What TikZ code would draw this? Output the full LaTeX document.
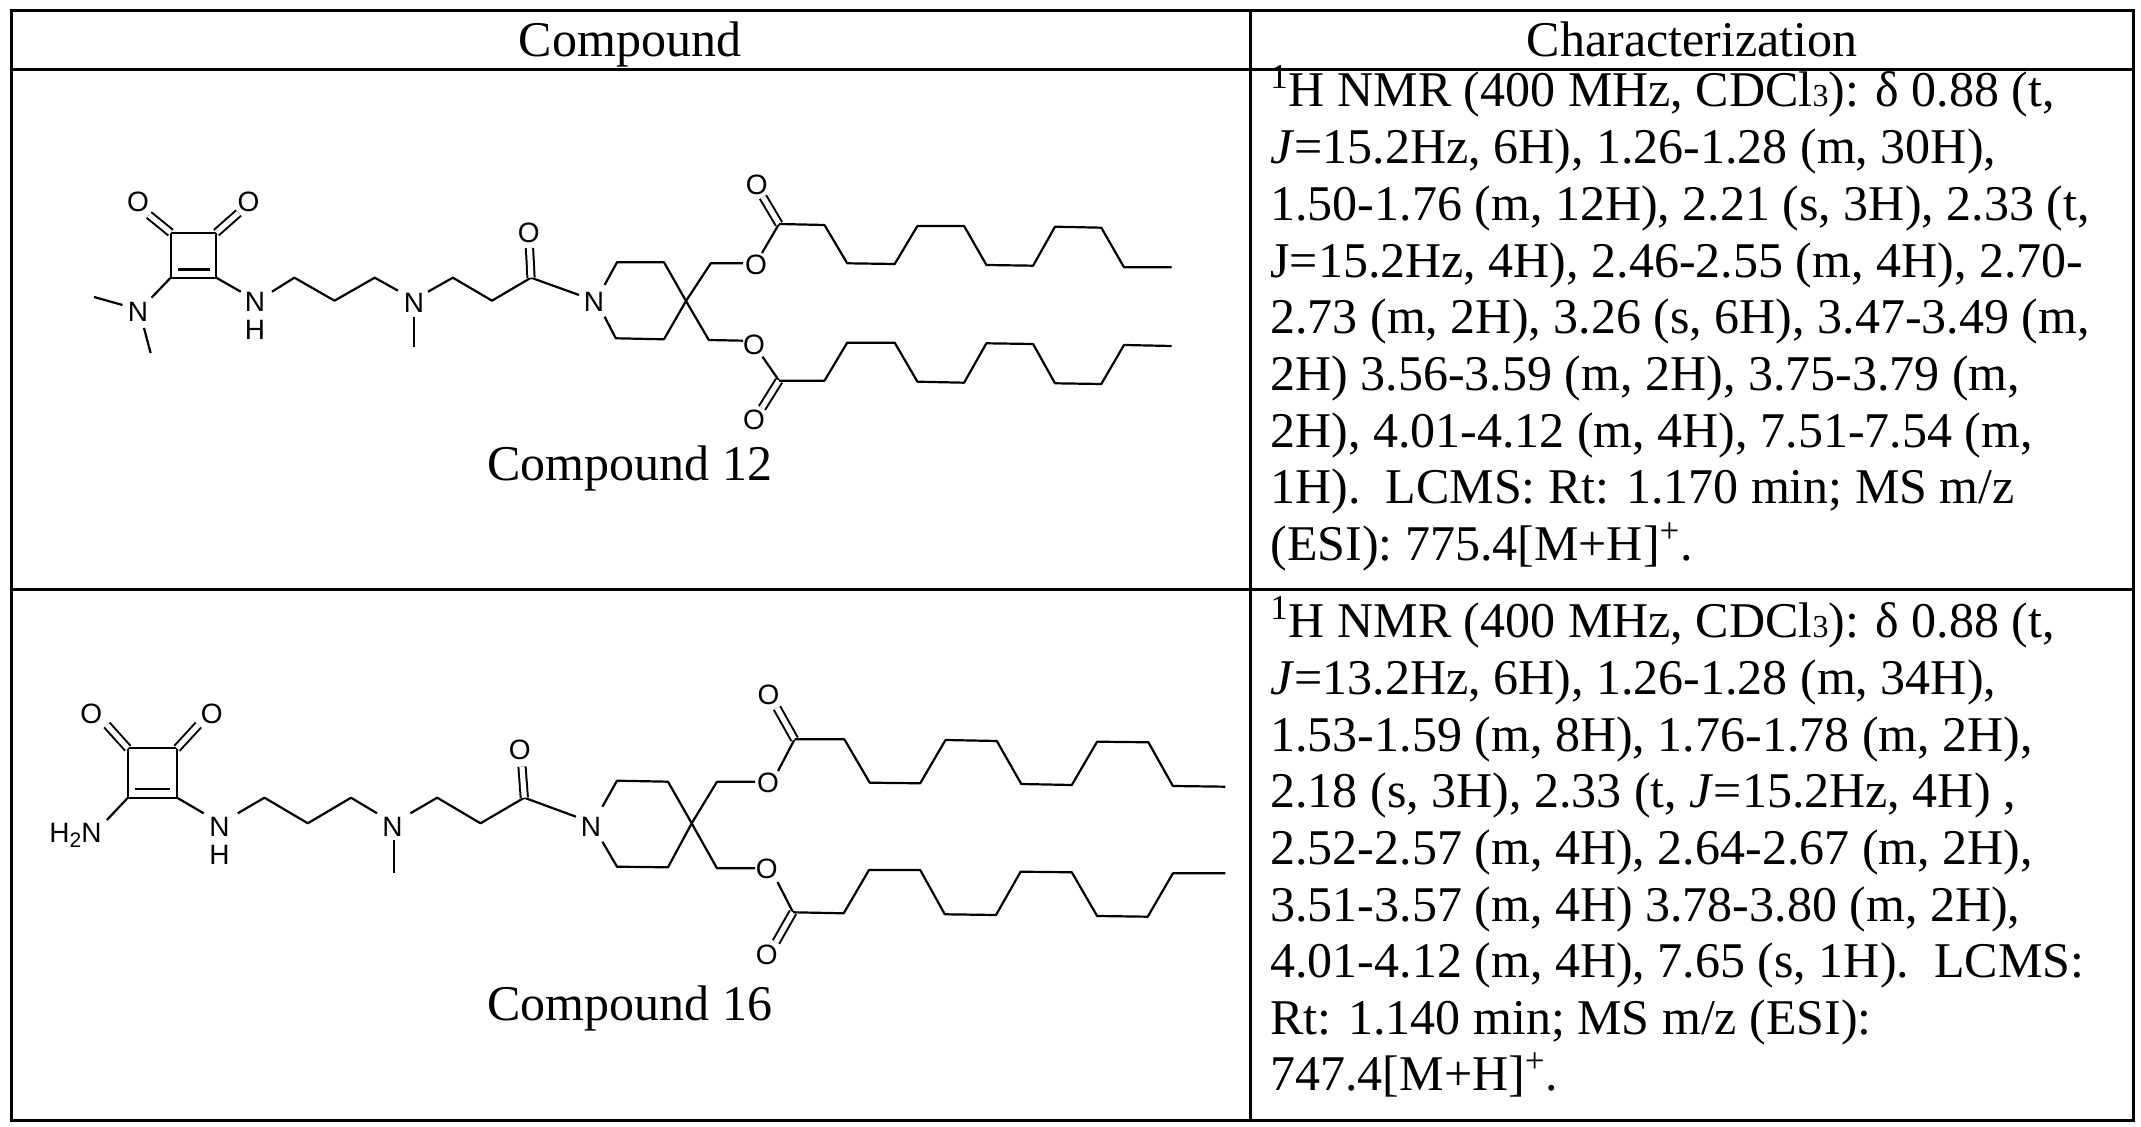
\documentclass[tikz,border=0pt]{standalone}
\usepackage{fontspec}
\setmainfont{Liberation Serif}
\newfontfamily\atomfont{Liberation Sans}
\begin{document}
\begin{tikzpicture}[x=0.5pt,y=-0.5pt,
  bond/.style={line width=1.1pt,line join=round},
  dbl/.style={line width=1.0pt,double,double distance=2.6pt},
  atom/.style={font=\atomfont\fontsize{14}{14}\selectfont,inner sep=0pt},
  txt/.style={font=\fontsize{25}{28}\selectfont,inner sep=0pt,anchor=base west},
  hdr/.style={font=\fontsize{25}{28}\selectfont,inner sep=0pt,anchor=base},
  grid/.style={line width=1.5pt}]
\useasboundingbox (0,0) rectangle (2141,1127);
\fill[white] (0,0) rectangle (2141,1127);
% table
\draw[grid] (11,11) rectangle (2133,1120);
\draw[grid] (11,70) -- (2133,70);
\draw[grid] (11,590) -- (2133,590);
\draw[grid] (1250,11) -- (1250,1120);
\node[hdr] (h1) at (630,57) {Compound};
\node[hdr] (h2) at (1692,57) {Characterization};
\newcommand{\sub}[1]{{\fontsize{16}{16}\selectfont #1}}
% row 1 text
\foreach \t [count=\i from 0] in {
 {\textsuperscript{1}H NMR (400 MHz, CDCl\sub{3}): δ 0.88 (t,},
 {\textit{J}=15.2Hz, 6H), 1.26-1.28 (m, 30H),},
 {1.50-1.76 (m, 12H), 2.21 (s, 3H), 2.33 (t,},
 {J=15.2Hz, 4H), 2.46-2.55 (m, 4H), 2.70-},
 {2.73 (m, 2H), 3.26 (s, 6H), 3.47-3.49 (m,},
 {2H) 3.56-3.59 (m, 2H), 3.75-3.79 (m,},
 {2H), 4.01-4.12 (m, 4H), 7.51-7.54 (m,},
 {1H).\ \ LCMS: Rt: 1.170 min; MS m/z},
 {(ESI): 775.4[M+H]\textsuperscript{+}.}}
 \node[txt] (ra\i) at (1270,107+56.7*\i) {\t};
% row 2 text
\foreach \t [count=\i from 0] in {
 {\textsuperscript{1}H NMR (400 MHz, CDCl\sub{3}): δ 0.88 (t,},
 {\textit{J}=13.2Hz, 6H), 1.26-1.28 (m, 34H),},
 {1.53-1.59 (m, 8H), 1.76-1.78 (m, 2H),},
 {2.18 (s, 3H), 2.33 (t, \textit{J}=15.2Hz, 4H)\ ,},
 {2.52-2.57 (m, 4H), 2.64-2.67 (m, 2H),},
 {3.51-3.57 (m, 4H) 3.78-3.80 (m, 2H),},
 {4.01-4.12 (m, 4H), 7.65 (s, 1H).\ \ LCMS:},
 {Rt: 1.140 min; MS m/z (ESI):},
 {747.4[M+H]\textsuperscript{+}.}}
 \node[txt] (rb\i) at (1270,638+56.6*\i) {\t};
\node[hdr] (c12) at (630,481) {Compound 12};
\node[hdr] (c16) at (630,1020) {Compound 16};

% ================= Compound 12 =================
\node[atom] (a1) at (138,202) {O};
\node[atom] (a2) at (248.4,202) {O};
\node[atom] (a3) at (138,312) {N};
\node[atom] (a4) at (255,302) {N};
\node[atom] (a5) at (255,330) {H};
\node[atom] (a6) at (414,303.3) {N};
\node[atom] (a7) at (528.7,233) {O};
\node[atom] (a8) at (594,301.7) {N};
\node[atom] (a9) at (756,265) {O};
\node[atom] (a10) at (756.7,185) {O};
\node[atom] (a11) at (754,345) {O};
\node[atom] (a12) at (754,420) {O};
\draw[bond] (170.7,232.7) rectangle (216.3,277.7);
\draw[bond] (178,269.5) -- (210,269.5);
\draw[dbl] (170.7,232.7) -- (149,215);
\draw[dbl] (216.3,232.7) -- (238.6,213);
\draw[bond] (170.7,277.7) -- (151.5,297.7);
\draw[bond] (122.5,305) -- (94,297);
\draw[bond] (144,328) -- (150.6,353);
\draw[bond] (216.3,277.7) -- (240.8,291.7);
\draw[bond] (272,291.7) -- (294.4,277.7) -- (334.5,300.7) -- (374.7,277.7) -- (398,290.7);
\draw[bond] (414,316.7) -- (414,346.7);
\draw[bond] (428,291.7) -- (452.9,277.7) -- (492,300.7) -- (531,277.7) -- (579,295);
\draw[dbl] (531,277.7) -- (529.5,248);
\draw[bond] (604.6,285) -- (617,262.3) -- (664,262.3) -- (686,301) -- (664,339.3) -- (615.8,338.3) -- (604.6,316.7);
\draw[bond] (686,301) -- (710.8,263.3) -- (743,263.3);
\draw[bond] (686,301) -- (708.8,340) -- (743,340.7);
% upper ester
\draw[bond] (762,253) -- (779,224);
\draw[dbl] (779,224) -- (763,197);
\draw[bond] (779,224) -- (824.5,225) -- (847.2,263.3) -- (894.7,264) -- (917.4,226) -- (964.1,226) -- (986.4,265) -- (1033.1,265.7) -- (1055,226.7) -- (1101.3,227.7) -- (1124,267.3) -- (1171.6,267.3);
% lower ester
\draw[bond] (762.5,356.7) -- (779,380.7);
\draw[dbl] (779,380.7) -- (762,408);
\draw[bond] (779,380.7) -- (824.5,380.7) -- (847.2,342.7) -- (894.7,342.7) -- (917.4,381.7) -- (964.1,382.7) -- (986.4,343.3) -- (1033.1,344) -- (1055,383.3) -- (1101.3,384) -- (1124,345) -- (1171.6,346);

% ================= Compound 16 =================
\node[atom] (b1) at (91.3,714) {O};
\node[atom] (b2) at (211.8,714) {O};
\node[atom,anchor=east] (b3) at (102,835) {H\raisebox{-0.35ex}{\fontsize{10.5}{10.5}\selectfont 2}N};
\node[atom] (b4) at (219.4,826.7) {N};
\node[atom] (b5) at (219.4,855) {H};
\node[atom] (b6) at (392.6,826.7) {N};
\node[atom] (b7) at (519.8,750) {O};
\node[atom] (b8) at (591,826.7) {N};
\node[atom] (b9) at (767.9,783.3) {O};
\node[atom] (b10) at (768.6,695) {O};
\node[atom] (b11) at (766.8,869.3) {O};
\node[atom] (b12) at (766.8,955) {O};
\draw[bond] (127.9,748.3) rectangle (177,797.7);
\draw[bond] (135,789) -- (170,789);
\draw[dbl] (127.9,748.3) -- (106.9,725);
\draw[dbl] (177,748.3) -- (198.4,725);
\draw[bond] (127.9,797.7) -- (106.9,820);
\draw[bond] (177,797.7) -- (203.75,813.3);
\draw[bond] (237.7,813.3) -- (264.5,797.7) -- (307.8,823.3) -- (351,797.7) -- (377,813.3);
\draw[bond] (394,840) -- (394,873.3);
\draw[bond] (410.4,813.3) -- (437.2,797.7) -- (480.5,823.3) -- (524.3,797.7) -- (576,816.7);
\draw[dbl] (524.3,797.7) -- (522,766.7);
\draw[bond] (602.4,806.7) -- (617,780.7) -- (668,781.7) -- (691.7,823.3) -- (668,867.3) -- (617,866.7) -- (602.4,841.7);
\draw[bond] (691.7,823.3) -- (717,781.7) -- (755,781.7);
\draw[bond] (691.7,823.3) -- (717,868.3) -- (755,868.3);
% upper ester
\draw[bond] (778,771) -- (794.6,739.3);
\draw[dbl] (794.6,739.3) -- (777,708);
\draw[bond] (794.6,739.3) -- (844.4,739.3) -- (869.7,782.7) -- (920.2,783.3) -- (945.5,740) -- (996.8,741) -- (1021.3,784) -- (1071.8,785) -- (1097.1,741.7) -- (1148.4,742.3) -- (1172.9,786) -- (1225.3,786.7);
% lower ester
\draw[bond] (777.5,882) -- (793,912.3);
\draw[dbl] (793,912.3) -- (776,942);
\draw[bond] (793,912.3) -- (843.7,913.3) -- (869,870) -- (920.2,870) -- (944.8,914.3) -- (996,915) -- (1020.6,871.7) -- (1071.8,872.3) -- (1097.1,916) -- (1147.7,916.7) -- (1172.9,873.3) -- (1225.3,873.3);
\end{tikzpicture}
\end{document}
